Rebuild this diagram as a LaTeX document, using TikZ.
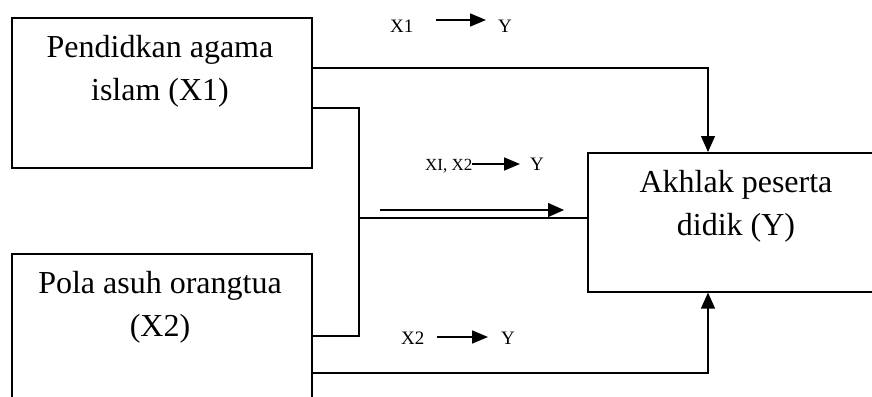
\documentclass[tikz,border=0pt]{standalone}
\usepackage{fontspec}
\setmainfont{Liberation Serif}
\usetikzlibrary{arrows.meta}
\begin{document}
\begin{tikzpicture}[x=1pt,y=-1pt,
  box/.style={draw,line width=1.6pt,inner sep=0pt},
  big/.style={font=\fontsize{32}{38}\selectfont, inner sep=0pt, anchor=base},
  small/.style={font=\fontsize{19}{22}\selectfont, inner sep=0pt, anchor=base west},
  tiny/.style={font=\fontsize{17}{20}\selectfont, inner sep=0pt, anchor=base west},
  conn/.style={line width=1.3pt},
  tip/.style={-{Triangle[length=16pt,width=14pt]}},
  ltip/.style={line width=1.7pt,-{Triangle[length=16pt,width=13pt]}},
]
\useasboundingbox (0,0) rectangle (872,396);
\clip (0,0) rectangle (872,396);
% boxes
\node[box, minimum width=300pt, minimum height=150pt, anchor=north west] (x1) at (11,17) {};
\node[box, minimum width=300pt, minimum height=170pt, anchor=north west] (x2) at (11,253) {};
\node[box, minimum width=303pt, minimum height=139pt, anchor=north west] (y) at (587,152) {};
% box texts
\node[big] (x1t1) at (160,58) {Pendidkan agama};
\node[big] (x1t2) at (160,100) {islam (X1)};
\node[big] (x2t1) at (160,293) {Pola asuh orangtua};
\node[big] (x2t2) at (160,336) {(X2)};
\node[big] (yt1) at (736,192) {Akhlak peserta};
\node[big] (yt2) at (736,235) {didik (Y)};
% connector coordinates
\coordinate (a1) at (708,68);
\coordinate (a2) at (708,373);
\coordinate (bt) at (359,108);
\coordinate (bm) at (359,218);
\coordinate (bb) at (359,336);
\coordinate (ds) at (380,210);
\coordinate (de) at (564,210);
% connectors
\draw[conn,tip] (x1.east |- a1) -- (a1) -- (y.north -| a1);
\draw[conn,tip] (x2.east |- a2) -- (a2) -- (y.south -| a2);
\draw[conn] (x1.east |- bt) -- (bt) -- (bb) -- (x2.east |- bb);
\draw[conn] (bm) -- (y.west |- bm);
\draw[conn,tip] (ds) -- (de);
% labels
\node[small] (l1x) at (390,33) {X1};
\node[small] (l1y) at (498,33) {Y};
\coordinate (l1s) at (436,20);
\coordinate (l1e) at (486,20);
\draw[ltip] (l1s) -- (l1e);
\node[tiny] (l2x) at (425,170) {XI, X2};
\node[small] (l2y) at (530,170) {Y};
\coordinate (l2s) at (472,164);
\coordinate (l2e) at (520,164);
\draw[ltip] (l2s) -- (l2e);
\node[small] (l3x) at (401,344) {X2};
\node[small] (l3y) at (501,344) {Y};
\coordinate (l3s) at (437,337);
\coordinate (l3e) at (488,337);
\draw[ltip] (l3s) -- (l3e);
\end{tikzpicture}
\end{document}
